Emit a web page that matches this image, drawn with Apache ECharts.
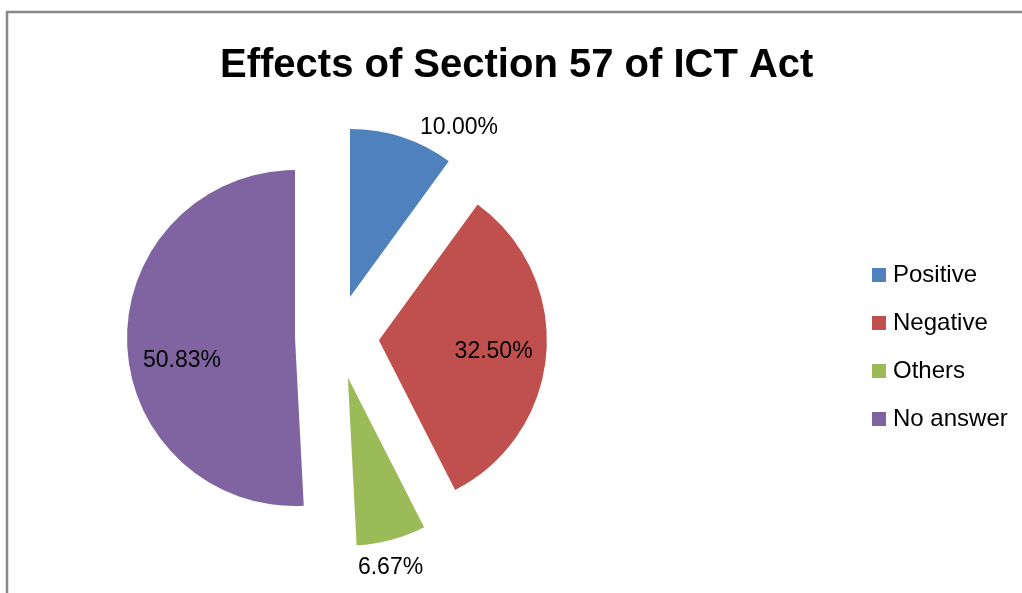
<!DOCTYPE html>
<html>
<head>
<meta charset="utf-8">
<script src="https://cdn.jsdelivr.net/npm/echarts@6/dist/echarts.min.js"></script>
<style>
    html, body { margin: 0; padding: 0; background: #fff; }
    #chart { width: 1022px; height: 593px; }
</style>
</head>
<body>
<div id="chart"></div>
<script>
// chart data
const categories = ['Positive', 'Negative', 'Others', 'No answer'];
const shares = [10.00, 32.50, 6.67, 50.83];
const colors = ['#4F81BD', '#C0504D', '#9BBB59', '#8064A2'];
const labelPlaces = ['outside', 'inside', 'outside', 'inside'];
// small label nudges to mimic excel's "best fit" placement
const labelNudge = [[0, 0], [28, 5], [-51, 18], [-26, 20]];

const font = 'Liberation Sans, Arial, sans-serif';

const chart = echarts.init(document.getElementById('chart'), null, { renderer: 'canvas' });

const pieData = categories.map((name, i) => ({
    name: name,
    value: shares[i],
    selected: true,
    itemStyle: { color: colors[i] },
    label: { position: labelPlaces[i] }
}));

chart.setOption({
    animation: false,
    backgroundColor: '#fff',
    title: {
        text: 'Effects of Section 57 of ICT Act',
        left: 220,
        top: 46,
        padding: 0,
        textStyle: { fontFamily: font, fontSize: 40, fontWeight: 'bold', color: '#000' }
    },
    legend: {
        orient: 'vertical',
        left: 872,
        top: 263,
        padding: 0,
        itemWidth: 14,
        itemHeight: 14,
        itemGap: 24,
        icon: 'rect',
        selectedMode: false,
        textStyle: { fontFamily: font, fontSize: 24, color: '#000', padding: [0, 0, 0, 2] },
        data: categories
    },
    graphic: [{
        type: 'rect',
        silent: true,
        shape: { x: 7, y: 12, width: 1040, height: 620 },
        style: { fill: 'none', stroke: '#898989', lineWidth: 2.5 }
    }],
    series: [{
        type: 'pie',
        center: [337, 337],
        radius: 168,
        startAngle: 90,
        clockwise: true,
        selectedMode: 'multiple',
        selectedOffset: 42,
        avoidLabelOverlap: false,
        emphasis: { disabled: true },
        select: { disabled: false },
        label: {
            show: true,
            formatter: p => p.value.toFixed(2) + '%',
            fontFamily: font,
            fontSize: 23,
            color: '#000'
        },
        labelLine: { show: false, length: 10, length2: 10 },
        labelLayout: p => ({ dx: labelNudge[p.dataIndex][0], dy: labelNudge[p.dataIndex][1] }),
        data: pieData
    }]
});
</script>
</body>
</html>
